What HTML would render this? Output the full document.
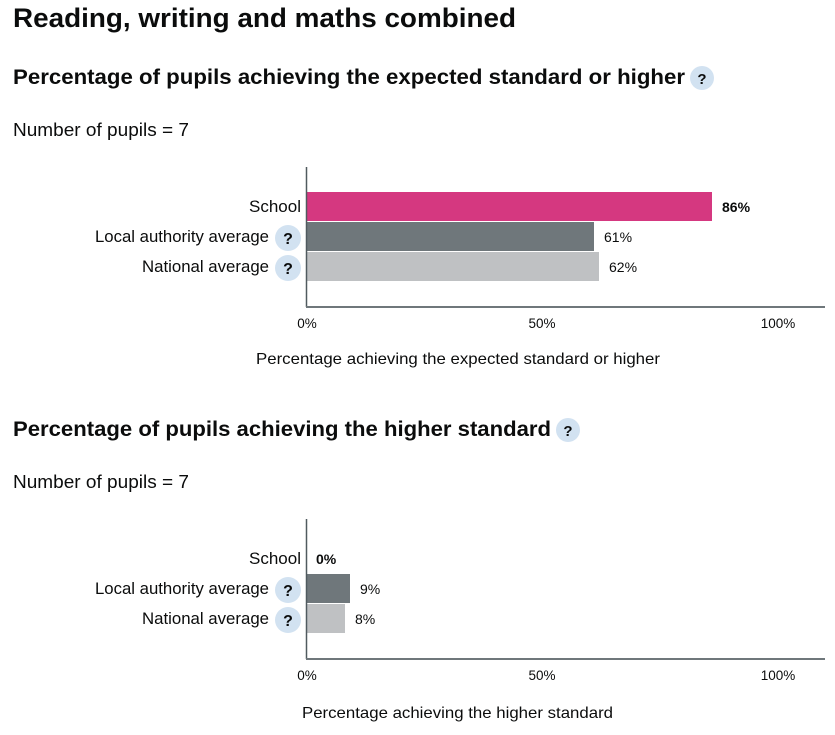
<!DOCTYPE html>
<html><head><meta charset="utf-8"><style>
body{margin:0;width:835px;height:730px;background:#fff;font-family:"Liberation Sans",sans-serif;color:#0b0c0c;overflow:hidden}
</style></head><body>
<svg width="835" height="730" xmlns="http://www.w3.org/2000/svg" font-family="Liberation Sans, sans-serif" fill="#0b0c0c">
<text x="13" y="27" font-size="27" font-weight="bold" textLength="503" lengthAdjust="spacingAndGlyphs">Reading, writing and maths combined</text>
<text x="13" y="84" font-size="21" font-weight="bold" textLength="672" lengthAdjust="spacingAndGlyphs">Percentage of pupils achieving the expected standard or higher</text>
<circle cx="702" cy="78" r="12" fill="#d2e2f1"/><text x="702" y="84" font-size="15" font-weight="bold" text-anchor="middle">?</text>
<text x="13" y="136" font-size="18" textLength="176" lengthAdjust="spacingAndGlyphs">Number of pupils = 7</text>
<rect x="307" y="192" width="405" height="29" fill="#d53880"/>
<rect x="307" y="222" width="287" height="29" fill="#6f777b"/>
<rect x="307" y="252" width="292" height="29" fill="#bfc1c3"/>
<line x1="306.5" y1="167" x2="306.5" y2="307" stroke="#505a5f" stroke-width="1.5"/>
<line x1="306" y1="307" x2="825" y2="307" stroke="#6f777b" stroke-width="2"/>
<text x="301" y="212" font-size="17" text-anchor="end">School</text>
<text x="269" y="242" font-size="17" text-anchor="end" textLength="174" lengthAdjust="spacingAndGlyphs">Local authority average</text>
<text x="269" y="272" font-size="17" text-anchor="end" textLength="127" lengthAdjust="spacingAndGlyphs">National average</text>
<circle cx="288" cy="238" r="13" fill="#d2e2f1"/><text x="288" y="244" font-size="16" font-weight="bold" text-anchor="middle">?</text>
<circle cx="288" cy="268" r="13" fill="#d2e2f1"/><text x="288" y="274" font-size="16" font-weight="bold" text-anchor="middle">?</text>
<text x="722" y="212" font-size="14" font-weight="bold">86%</text>
<text x="604" y="242" font-size="14">61%</text>
<text x="609" y="272" font-size="14">62%</text>
<text x="307" y="328" font-size="13.5" text-anchor="middle">0%</text>
<text x="542" y="328" font-size="13.5" text-anchor="middle">50%</text>
<text x="778" y="328" font-size="13.5" text-anchor="middle">100%</text>
<text x="256" y="364" font-size="16" textLength="404" lengthAdjust="spacingAndGlyphs">Percentage achieving the expected standard or higher</text>

<text x="13" y="436" font-size="21" font-weight="bold" textLength="538" lengthAdjust="spacingAndGlyphs">Percentage of pupils achieving the higher standard</text>
<circle cx="568" cy="430" r="12" fill="#d2e2f1"/><text x="568" y="436" font-size="15" font-weight="bold" text-anchor="middle">?</text>
<text x="13" y="488" font-size="18" textLength="176" lengthAdjust="spacingAndGlyphs">Number of pupils = 7</text>
<rect x="307" y="574" width="43" height="29" fill="#6f777b"/>
<rect x="307" y="604" width="38" height="29" fill="#bfc1c3"/>
<line x1="306.5" y1="519" x2="306.5" y2="659" stroke="#505a5f" stroke-width="1.5"/>
<line x1="306" y1="659" x2="825" y2="659" stroke="#6f777b" stroke-width="2"/>
<text x="301" y="564" font-size="17" text-anchor="end">School</text>
<text x="269" y="594" font-size="17" text-anchor="end" textLength="174" lengthAdjust="spacingAndGlyphs">Local authority average</text>
<text x="269" y="624" font-size="17" text-anchor="end" textLength="127" lengthAdjust="spacingAndGlyphs">National average</text>
<circle cx="288" cy="590" r="13" fill="#d2e2f1"/><text x="288" y="596" font-size="16" font-weight="bold" text-anchor="middle">?</text>
<circle cx="288" cy="620" r="13" fill="#d2e2f1"/><text x="288" y="626" font-size="16" font-weight="bold" text-anchor="middle">?</text>
<text x="316" y="564" font-size="14" font-weight="bold">0%</text>
<text x="360" y="594" font-size="14">9%</text>
<text x="355" y="624" font-size="14">8%</text>
<text x="307" y="680" font-size="13.5" text-anchor="middle">0%</text>
<text x="542" y="680" font-size="13.5" text-anchor="middle">50%</text>
<text x="778" y="680" font-size="13.5" text-anchor="middle">100%</text>
<text x="302" y="718" font-size="16" textLength="311" lengthAdjust="spacingAndGlyphs">Percentage achieving the higher standard</text>
</svg>
</body></html>
